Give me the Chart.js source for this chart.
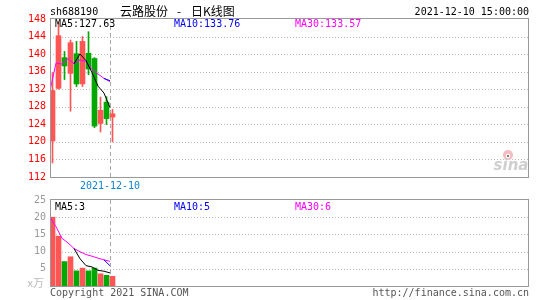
<!DOCTYPE html>
<html>
<head>
<meta charset="utf-8">
<script src="https://cdn.jsdelivr.net/npm/chart.js@4.4.1/dist/chart.umd.min.js"></script>
<style>
html, body { margin: 0; padding: 0; background: #fff; }
#wrap { position: relative; width: 545px; height: 300px; }
canvas { position: absolute; left: 0; }
</style>
</head>
<body>
<div id="wrap">
  <canvas id="kline" width="545" height="190" style="top:0"></canvas>
  <canvas id="vol" width="545" height="110" style="top:190px"></canvas>
</div>
<script>
// values
const code = 'sh688190';
const stockName = '云路股份';
const chartName = '日K线图';
const updated = '2021-12-10 15:00:00';
const lastDate = '2021-12-10';

const opens  = [120.2, 132.2, 139.2, 135.6, 140.1, 133.2, 140.2, 139.0, 124.2, 129.05, 125.65];
const closes = [131.7, 144.2, 137.3, 142.6, 133.2, 142.9, 136.6, 123.6, 127.2, 125.3, 126.4];
const highs  = [135.8, 147.2, 140.6, 143.2, 142.9, 144.0, 145.1, 139.2, 130.2, 130.3, 127.4];
const lows   = [115.2, 132.0, 134.2, 127.0, 132.6, 132.6, 135.3, 123.25, 122.25, 123.95, 120.0];

const ma5  = [null, null, null, null, 137.8, 140.04, 138.52, 135.78, 132.7, 131.12, 127.8];
const ma10 = [null, null, null, null, null, null, null, null, null, 134.46, 133.93];
const ma30 = [131.7, 137.95, 137.73, 138.95, 137.8, 138.65, 138.36, 136.51, 135.48, 134.46, 133.73];

const volumes = [20, 14.5, 7.1, 8.5, 4.4, 5.2, 4.4, 5.2, 3.55, 3.1, 2.8];
const volMa5  = [null, null, null, null, 10.9, 7.94, 5.92, 5.54, 4.55, 4.29, 3.81];
const volMa10 = [null, null, null, null, null, null, null, null, null, 7.6, 5.88];
const volMa30 = [20, 17.25, 13.87, 12.53, 10.9, 9.95, 9.16, 8.66, 8.09, 7.6, 7.16];

const priceMin = 112, priceMax = 148, priceStep = 4;
const volMin = 0, volMax = 25, volStep = 5;
const priceMaText = ['MA5:127.63', 'MA10:133.76', 'MA30:133.57'];
const volMaText = ['MA5:3', 'MA10:5', 'MA30:6'];

const UP = '#ff5555', DOWN = '#00a800';
const maColors = ['#000000', '#0000ff', '#ff00ff'];
const mono = 'DejaVu Sans Mono';
const slots = 479 / 6;     // 6px per day
const barOff = 2.5 / 6;    // candle sits right of the day's line point
const last = closes.length - 1;

const colors = closes.map((c, i) => c >= opens[i] ? UP : DOWN);

function lineSet(vals, color) {
    return {
        type: 'line',
        data: vals.map((v, i) => ({x: i, y: v})),
        borderColor: color,
        borderWidth: 1,
        pointRadius: 0,
        tension: 0,
        order: 0,
    };
}

function frame(chart, yScale, ticks) {
    const ctx = chart.ctx;
    const a = chart.chartArea;
    ctx.save();
    ctx.strokeStyle = '#bdbdbd';
    ctx.lineWidth = 1;
    ctx.setLineDash([1, 2]);
    ticks.forEach(t => {
        const y = Math.round(yScale.getPixelForValue(t)) + 0.5;
        ctx.beginPath();
        ctx.moveTo(a.left, y);
        ctx.lineTo(a.right, y);
        ctx.stroke();
    });
    const cx = Math.round(chart.scales.x.getPixelForValue(last)) + 0.5;
    ctx.strokeStyle = '#a8a8a8';
    ctx.setLineDash([4, 3]);
    ctx.beginPath();
    ctx.moveTo(cx, a.top);
    ctx.lineTo(cx, a.bottom);
    ctx.stroke();
    ctx.restore();
}

function border(chart) {
    const ctx = chart.ctx;
    const a = chart.chartArea;
    ctx.save();
    ctx.strokeStyle = '#999';
    ctx.lineWidth = 1;
    ctx.strokeRect(Math.round(a.left) + 0.5, Math.round(a.top) - 0.5, Math.round(a.right - a.left) - 1, Math.round(a.bottom - a.top) + 1);
    ctx.restore();
}

function text(ctx, s, x, y, color, font, align) {
    ctx.fillStyle = color;
    ctx.font = font;
    ctx.textAlign = align || 'left';
    ctx.textBaseline = 'middle';
    ctx.fillText(s, x, y);
}

const kPlugin = {
    id: 'kdeco',
    beforeDatasetsDraw(chart) {
        const ticks = [];
        for (let v = priceMin + priceStep; v < priceMax; v += priceStep) ticks.push(v);
        frame(chart, chart.scales.y, ticks);
    },
    afterDatasetsDraw(chart) {
        const ctx = chart.ctx;
        border(chart);
        ctx.save();
        const f = `10px "${mono}"`;
        text(ctx, code, 50, 12, '#000', f);
        text(ctx, stockName, 120, 11, '#000', '12px "Noto Sans CJK SC"');
        text(ctx, '-', 179, 11, '#000', '12px "Noto Sans CJK SC"', 'center');
        text(ctx, chartName, 191, 11, '#000', '12px "Noto Sans CJK SC"');
        text(ctx, updated, 529, 12, '#000', f, 'right');
        text(ctx, priceMaText[0], 55, 24, maColors[0], f);
        text(ctx, priceMaText[1], 174, 24, maColors[1], f);
        text(ctx, priceMaText[2], 295, 24, maColors[2], f);
        const cx = chart.scales.x.getPixelForValue(last);
        text(ctx, lastDate, cx, 186, '#1183d4', f, 'center');
        // sina mark
        ctx.fillStyle = '#f7bcc0';
        ctx.beginPath();
        ctx.arc(508, 155, 5, 0, Math.PI * 2);
        ctx.fill();
        ctx.fillStyle = '#fff';
        ctx.beginPath();
        ctx.arc(508, 156, 2.2, 0, Math.PI * 2);
        ctx.fill();
        ctx.fillStyle = '#555';
        ctx.beginPath();
        ctx.arc(508, 156, 1, 0, Math.PI * 2);
        ctx.fill();
        ctx.fillStyle = '#cfcfcf';
        ctx.font = 'italic bold 15px "DejaVu Sans"';
        ctx.textAlign = 'center';
        ctx.textBaseline = 'middle';
        ctx.fillText('sina', 511, 166);
        ctx.restore();
    }
};

const vPlugin = {
    id: 'vdeco',
    beforeDatasetsDraw(chart) {
        const ticks = [];
        for (let v = volMin + volStep; v < volMax; v += volStep) ticks.push(v);
        frame(chart, chart.scales.y, ticks);
    },
    afterDatasetsDraw(chart) {
        const ctx = chart.ctx;
        border(chart);
        ctx.save();
        const f = `10px "${mono}"`;
        text(ctx, volMaText[0], 55, 17, maColors[0], f);
        text(ctx, volMaText[1], 174, 17, maColors[1], f);
        text(ctx, volMaText[2], 295, 17, maColors[2], f);
        text(ctx, 'x万', 44, 93, '#bbbbbb', '11px "Noto Sans CJK SC"', 'right');
        text(ctx, 'Copyright 2021 SINA.COM', 50, 103, '#555', f);
        text(ctx, 'http://finance.sina.com.cn', 529, 103, '#555', f, 'right');
        ctx.restore();
    }
};

function xScale() {
    return {type: 'linear', min: 0, max: slots, display: false, offset: false, grid: {display: false}};
}

function yScale(min, max, step, color, hideZero) {
    return {
        min: min, max: max,
        afterFit(s) { s.width = 50; },
        grid: {display: false, drawTicks: false},
        border: {display: false},
        ticks: {
            stepSize: step,
            color: color,
            padding: 4,
            font: {family: mono, size: 10},
            callback: v => (hideZero && v === 0) ? '' : v,
        },
    };
}

const common = {
    responsive: false,
    animation: false,
    events: [],
    plugins: {legend: {display: false}, tooltip: {enabled: false}},
};

new Chart(document.getElementById('kline'), {
    type: 'bar',
    data: {
        datasets: [
            lineSet(ma5, maColors[0]),
            lineSet(ma10, maColors[1]),
            lineSet(ma30, maColors[2]),
            {
                type: 'bar', order: 1, grouped: false,
                data: opens.map((o, i) => ({x: i + barOff, y: [o, closes[i]]})),
                backgroundColor: colors, barThickness: 5, borderWidth: 0,
            },
            {
                type: 'bar', order: 2, grouped: false,
                data: lows.map((l, i) => ({x: i + barOff, y: [l, highs[i]]})),
                backgroundColor: colors, barThickness: 1, borderWidth: 0,
            },
        ],
    },
    options: Object.assign({}, common, {
        layout: {padding: {left: 0, right: 16, top: 19, bottom: 13}},
        scales: {
            x: xScale(),
            y: yScale(priceMin, priceMax, priceStep, '#ff0000', false),
        },
    }),
    plugins: [kPlugin],
});

new Chart(document.getElementById('vol'), {
    type: 'bar',
    data: {
        datasets: [
            lineSet(volMa5, maColors[0]),
            lineSet(volMa10, maColors[1]),
            lineSet(volMa30, maColors[2]),
            {
                type: 'bar', order: 1, grouped: false,
                data: volumes.map((v, i) => ({x: i + barOff, y: [0, v]})),
                backgroundColor: colors, barThickness: 5, borderWidth: 0,
            },
        ],
    },
    options: Object.assign({}, common, {
        layout: {padding: {left: 0, right: 16, top: 10, bottom: 14}},
        scales: {
            x: xScale(),
            y: yScale(volMin, volMax, volStep, '#999999', true),
        },
    }),
    plugins: [vPlugin],
});
</script>
</body>
</html>
